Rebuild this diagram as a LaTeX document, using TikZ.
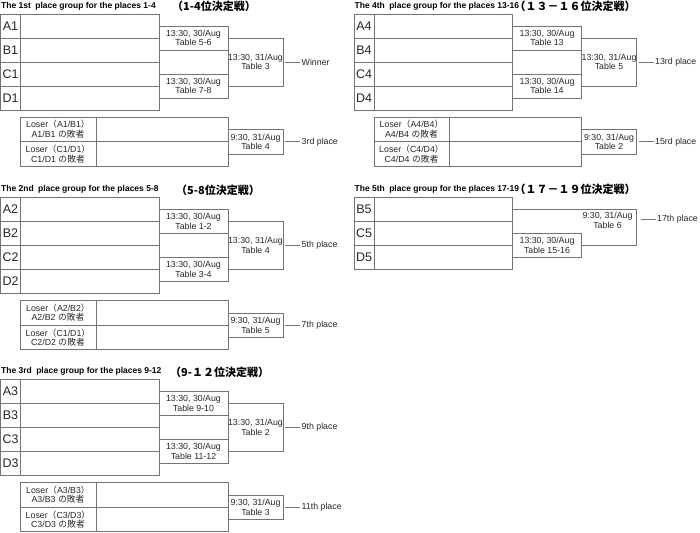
\documentclass[tikz,border=0pt]{standalone}
\usepackage{fontspec}
\setmainfont{Liberation Sans}
\newfontfamily\jp{Noto Sans CJK JP}
\usetikzlibrary{positioning}
\definecolor{rulegray}{gray}{0.45}
\definecolor{inkgray}{gray}{0.15}

\begin{document}
\begin{tikzpicture}[x=1pt,y=-1pt,
  ln/.style={draw=rulegray,line width=0.8pt},
  txt/.style={inner sep=0pt,outer sep=0pt,align=center,text=inkgray,font=\fontsize{8.8}{9.5}\selectfont},
  semi/.style={txt,ln,minimum width=69pt,minimum height=24pt},
  final/.style={txt,ln,minimum width=55pt,minimum height=48pt},
  third/.style={txt,ln,minimum width=55pt,minimum height=24.5pt},
  seed/.style={inner sep=0pt,text=inkgray,font=\fontsize{12.5}{13}\selectfont},
  res/.style={inner xsep=1.5pt,inner ysep=0pt,text=inkgray,font=\fontsize{8.8}{9.5}\selectfont},
  grp/.style={anchor=west,inner sep=0pt,font=\bfseries\fontsize{8.5}{9}\selectfont},
  jtit/.style={anchor=west,inner sep=0pt,font=\jp\bfseries\fontsize{11}{12}\selectfont}]
\useasboundingbox (0,0) rectangle (700,532);

% 1st place group
\begin{scope}
  \node[grp] (g1t) at (1,6) {The 1st\hspace{2pt} place group for the places 1-4};
  \node[jtit] (g1j) at (172,6.5) {（1-4位決定戦）};
  \draw[ln] (0.5,14) rectangle (159,110) (20.5,14) -- (20.5,110);
  \foreach \y in {38,62,86} \draw[ln] (0.5,\y) -- (159,\y);
  \foreach \s [count=\i] in {A1,B1,C1,D1} \node[seed] (g1s\i) at (10.5,2+24*\i) {\s};
  \node[semi] (g1m1) at (193.5,38) {13:30, 30/Aug\\Table 5-6};
  \node[semi] (g1m2) at (193.5,86) {13:30, 30/Aug\\Table 7-8};
  \node[final] (g1f) at (255.5,62) {13:30, 31/Aug\\Table 3};
  \node[res,right=17pt of g1f] (g1w) {Winner};
  \draw[ln] ([xshift=2pt]g1f.east) -- (g1w);
  \draw[ln] (20.5,117) rectangle (228,166) (20.5,141.5) -- (228,141.5) (96,117) -- (96,166);
  \node[txt] (g1l1) at (58,129) {Loser{\jp （}A1/B1{\jp ）}\\A1/B1 {\jp の敗者}};
  \node[txt] (g1l2) at (58,154) {Loser{\jp （}C1/D1{\jp ）}\\C1/D1 {\jp の敗者}};
  \node[third] (g1p) at (255.5,141.75) {9:30, 31/Aug\\Table 4};
  \node[res,right=17pt of g1p] (g1r) {3rd place};
  \draw[ln] ([xshift=2pt]g1p.east) -- (g1r);
\end{scope}

% 2nd place group
\begin{scope}[shift={(0,183.5)}]
  \node[grp] (g2t) at (1,6) {The 2nd\hspace{2pt} place group for the places 5-8};
  \node[jtit] (g2j) at (176,6.5) {（5-8位決定戦）};
  \draw[ln] (0.5,14) rectangle (159,110) (20.5,14) -- (20.5,110);
  \foreach \y in {38,62,86} \draw[ln] (0.5,\y) -- (159,\y);
  \foreach \s [count=\i] in {A2,B2,C2,D2} \node[seed] (g2s\i) at (10.5,2+24*\i) {\s};
  \node[semi] (g2m1) at (193.5,38) {13:30, 30/Aug\\Table 1-2};
  \node[semi] (g2m2) at (193.5,86) {13:30, 30/Aug\\Table 3-4};
  \node[final] (g2f) at (255.5,62) {13:30, 31/Aug\\Table 4};
  \node[res,right=17pt of g2f] (g2w) {5th place};
  \draw[ln] ([xshift=2pt]g2f.east) -- (g2w);
  \draw[ln] (20.5,117) rectangle (228,166) (20.5,141.5) -- (228,141.5) (96,117) -- (96,166);
  \node[txt] (g2l1) at (58,129) {Loser{\jp （}A2/B2{\jp ）}\\A2/B2 {\jp の敗者}};
  \node[txt] (g2l2) at (58,154) {Loser{\jp （}C1/D1{\jp ）}\\C2/D2 {\jp の敗者}};
  \node[third] (g2p) at (255.5,141.75) {9:30, 31/Aug\\Table 5};
  \node[res,right=17pt of g2p] (g2r) {7th place};
  \draw[ln] ([xshift=2pt]g2p.east) -- (g2r);
\end{scope}

% 3rd place group
\begin{scope}[shift={(0,365.5)}]
  \node[grp] (g3t) at (1,6) {The 3rd\hspace{2pt} place group for the places 9-12};
  \node[jtit] (g3j) at (170,6.5) {（9-１２位決定戦）};
  \draw[ln] (0.5,14) rectangle (159,110) (20.5,14) -- (20.5,110);
  \foreach \y in {38,62,86} \draw[ln] (0.5,\y) -- (159,\y);
  \foreach \s [count=\i] in {A3,B3,C3,D3} \node[seed] (g3s\i) at (10.5,2+24*\i) {\s};
  \node[semi] (g3m1) at (193.5,38) {13:30, 30/Aug\\Table 9-10};
  \node[semi] (g3m2) at (193.5,86) {13:30, 30/Aug\\Table 11-12};
  \node[final] (g3f) at (255.5,62) {13:30, 31/Aug\\Table 2};
  \node[res,right=17pt of g3f] (g3w) {9th place};
  \draw[ln] ([xshift=2pt]g3f.east) -- (g3w);
  \draw[ln] (20.5,117) rectangle (228,166) (20.5,141.5) -- (228,141.5) (96,117) -- (96,166);
  \node[txt] (g3l1) at (58,129) {Loser{\jp （}A3/B3{\jp ）}\\A3/B3 {\jp の敗者}};
  \node[txt] (g3l2) at (58,154) {Loser{\jp （}C3/D3{\jp ）}\\C3/D3 {\jp の敗者}};
  \node[third] (g3p) at (255.5,141.75) {9:30, 31/Aug\\Table 3};
  \node[res,right=17pt of g3p] (g3r) {11th place};
  \draw[ln] ([xshift=2pt]g3p.east) -- (g3r);
\end{scope}

% 4th place group
\begin{scope}[shift={(353.5,0)}]
  \node[grp] (g4t) at (1,6) {The 4th\hspace{2pt} place group for the places 13-16};
  \node[jtit,right=-5pt of g4t] (g4j) {（１３－１６位決定戦）};
  \draw[ln] (0.5,14) rectangle (159,110) (20.5,14) -- (20.5,110);
  \foreach \y in {38,62,86} \draw[ln] (0.5,\y) -- (159,\y);
  \foreach \s [count=\i] in {A4,B4,C4,D4} \node[seed] (g4s\i) at (10.5,2+24*\i) {\s};
  \node[semi] (g4m1) at (193.5,38) {13:30, 30/Aug\\Table 13};
  \node[semi] (g4m2) at (193.5,86) {13:30, 30/Aug\\Table 14};
  \node[final] (g4f) at (255.5,62) {13:30, 31/Aug\\Table 5};
  \node[res,right=17pt of g4f] (g4w) {13rd place};
  \draw[ln] ([xshift=2pt]g4f.east) -- (g4w);
  \draw[ln] (20.5,117) rectangle (228,166) (20.5,141.5) -- (228,141.5) (96,117) -- (96,166);
  \node[txt] (g4l1) at (58,129) {Loser{\jp （}A4/B4{\jp ）}\\A4/B4 {\jp の敗者}};
  \node[txt] (g4l2) at (58,154) {Loser{\jp （}C4/D4{\jp ）}\\C4/D4 {\jp の敗者}};
  \node[third] (g4p) at (255.5,141.75) {9:30, 31/Aug\\Table 2};
  \node[res,right=17pt of g4p] (g4r) {15rd place};
  \draw[ln] ([xshift=2pt]g4p.east) -- (g4r);
\end{scope}

% 5th place group
\begin{scope}[shift={(353.5,183.5)}]
  \node[grp] (g5t) at (1,6) {The 5th\hspace{2pt} place group for the places 17-19};
  \node[jtit,right=-5pt of g5t] (g5j) {（１７－１９位決定戦）};
  \draw[ln] (0.5,14) rectangle (159,86) (20.5,14) -- (20.5,86);
  \foreach \y in {38,62} \draw[ln] (0.5,\y) -- (159,\y);
  \foreach \s [count=\i] in {B5,C5,D5} \node[seed] (g5s\i) at (10.5,2+24*\i) {\s};
  \node[semi] (g5m1) at (193.5,62) {13:30, 30/Aug\\Table 15-16};
  \draw[ln] (159,26) -- (283,26) -- (283,62) -- (g5m1.east);
  \node[txt] (g5f) at (254,37) {9:30, 31/Aug\\Table 6};
  \coordinate (g5e) at (287,35.5);
  \node[res,anchor=west] (g5w) at (302,35.5) {17th place};
  \draw[ln] (g5e) -- (g5w);
\end{scope}
\end{tikzpicture}
\end{document}
